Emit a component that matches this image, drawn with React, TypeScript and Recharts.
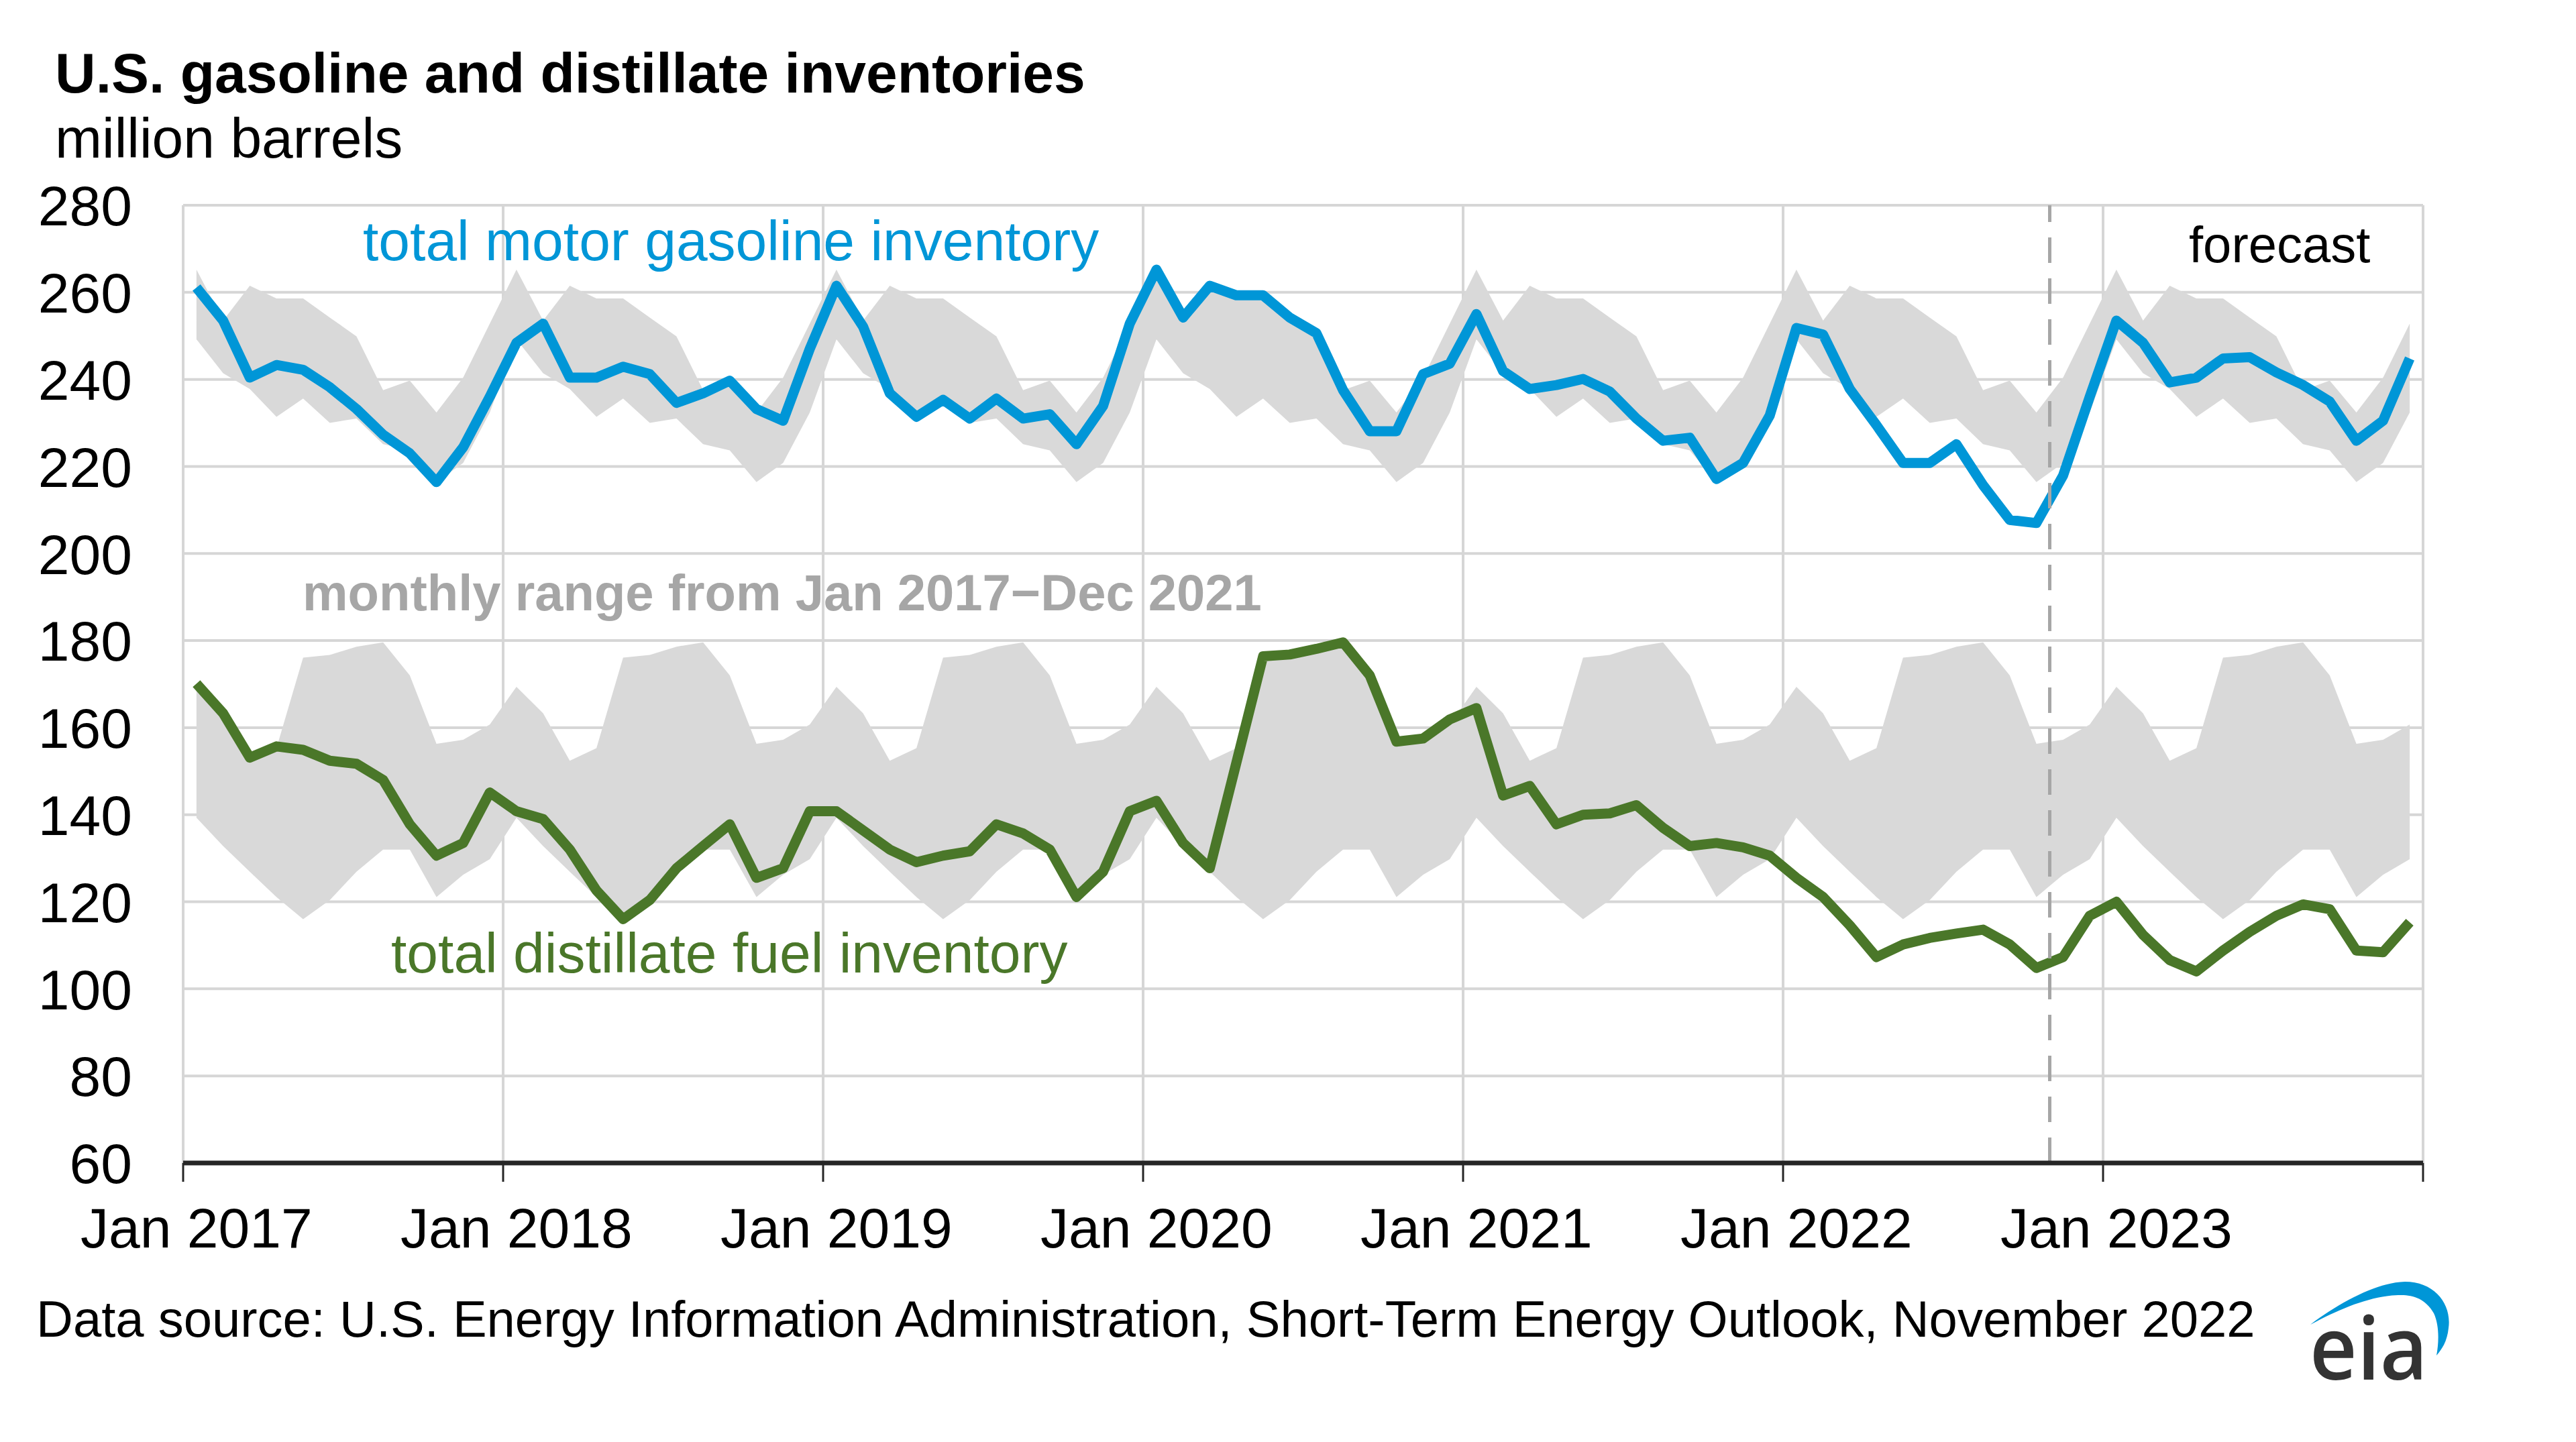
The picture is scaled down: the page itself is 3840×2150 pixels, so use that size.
import React from 'react';
import { ComposedChart, Line, Area, XAxis, YAxis, CartesianGrid, ReferenceLine } from 'recharts';

// ---------- data ----------
const yearLabels = ['Jan 2017', 'Jan 2018', 'Jan 2019', 'Jan 2020', 'Jan 2021', 'Jan 2022', 'Jan 2023'];
const xTicks = [0, 12, 24, 36, 48, 60, 72, 84];
const yTicks = [60, 80, 100, 120, 140, 160, 180, 200, 220, 240, 260, 280];
const forecastStartMonth = 70; // Nov 2022

// total motor gasoline inventory, Jan 2017 - Dec 2023 (million barrels)
const gasoline = [
  261.1, 253.5, 240.4, 243.3, 242.2, 238.2, 233.2, 227.3, 223.0, 216.4, 224.4, 236.0,
  248.4, 252.8, 240.4, 240.4, 242.9, 241.2, 234.6, 236.8, 239.7, 233.2, 230.5, 247.0,
  261.5, 252.1, 236.8, 231.4, 235.3, 231.0, 235.6, 231.0, 232.0, 225.1, 233.9, 252.8,
  265.2, 254.2, 261.5, 259.3, 259.3, 254.2, 250.6, 237.5, 228.1, 228.1, 241.2, 243.6,
  255.0, 241.9, 237.8, 238.7, 240.1, 237.2, 231.0, 225.9, 226.6, 217.1, 220.8, 231.7,
  251.8, 250.3, 237.8, 229.5, 220.8, 220.8, 225.1, 215.7, 207.7, 207.0, 217.9, 236.0,
  253.5, 248.4, 239.3, 240.4, 244.8, 245.1, 241.6, 238.7, 234.9, 225.9, 230.5, 244.8,
];

// total distillate fuel inventory, Jan 2017 - Dec 2023 (million barrels)
const distillate = [
  170.1, 163.3, 153.1, 155.7, 154.9, 152.4, 151.7, 148.0, 137.8, 130.6, 133.5, 145.1,
  140.8, 139.0, 132.0, 122.6, 116.0, 120.4, 127.7, 132.8, 137.8, 125.5, 127.7, 140.8,
  140.8, 136.4, 132.0, 129.1, 130.6, 131.6, 137.8, 135.7, 132.0, 121.1, 126.9, 140.8,
  143.2, 133.5, 127.7, 152.0, 176.4, 176.8, 178.1, 179.6, 172.0, 156.8, 157.5, 161.9,
  164.5, 144.4, 146.6, 137.8, 140.0, 140.3, 142.2, 137.0, 132.8, 133.5, 132.5, 130.6,
  125.5, 121.1, 114.6, 107.3, 110.2, 111.7, 112.7, 113.6, 110.2, 104.8, 107.3, 116.8,
  120.0, 112.4, 106.6, 104.0, 108.8, 113.1, 116.8, 119.4, 118.3, 108.8, 108.4, 115.3,
];

// monthly range Jan 2017 - Dec 2021, by calendar month (Jan..Dec)
const gasRangeLow = [249.2, 241.4, 237.8, 231.4, 235.6, 230.0, 231.0, 225.1, 223.7, 216.4, 220.8, 232.4];
const gasRangeHigh = [265.2, 253.5, 261.5, 258.6, 258.6, 254.2, 249.9, 237.5, 239.7, 232.4, 240.4, 252.8];
const distRangeLow = [139.3, 132.8, 126.9, 121.1, 116.0, 120.4, 126.9, 132.0, 132.0, 121.1, 126.2, 129.8];
const distRangeHigh = [169.4, 163.3, 152.4, 155.3, 176.1, 176.7, 178.6, 179.6, 172.0, 156.3, 157.2, 160.7];

const data = gasoline.map((g, i) => ({
  x: i + 0.5,
  gasoline: g,
  distillate: distillate[i],
  gasRange: [gasRangeLow[i % 12], gasRangeHigh[i % 12]],
  distRange: [distRangeLow[i % 12], distRangeHigh[i % 12]],
}));

// ---------- layout ----------
const W = 3840;
const H = 2150;
const PLOT_LEFT = 273;
const PLOT_RIGHT = 3612;
const PLOT_TOP = 306;
const PLOT_BOTTOM = 1734;
const HALF_SLOT = (PLOT_RIGHT - PLOT_LEFT) / 84 / 2;
const FONT = "'Liberation Sans', Arial, Helvetica, sans-serif";

const BLUE = '#0096D7';
const GREEN = '#4A7729';
const BAND = '#D9D9D9';
const GRID = '#D6D6D6';

const XTick = (props: any) => {
  const { x, payload } = props;
  const label = yearLabels[Math.round(payload.value / 12)];
  if (!label) return <g />;
  return (
    <text x={x + HALF_SLOT} y={1860} textAnchor="middle" fontFamily={FONT} fontSize={84} fill="#000">
      {label}
    </text>
  );
};

const YTick = (props: any) => {
  const { y, payload } = props;
  return (
    <text x={197} y={y} dy="0.36em" textAnchor="end" fontFamily={FONT} fontSize={84} fill="#000">
      {payload.value}
    </text>
  );
};

export default function App() {
  return (
    <div style={{ position: 'absolute', left: 0, top: 0, width: W, height: H, background: '#fff', fontFamily: FONT }}>
      <ComposedChart
        width={W}
        height={H}
        data={data}
        margin={{ top: PLOT_TOP, right: W - PLOT_RIGHT, bottom: 0, left: 0 }}
      >
        <CartesianGrid stroke={GRID} strokeWidth={4} />
        <XAxis
          type="number"
          dataKey="x"
          domain={[0, 84]}
          ticks={xTicks}
          interval={0}
          height={H - PLOT_BOTTOM}
          axisLine={{ stroke: '#262626', strokeWidth: 7 }}
          tickLine={{ stroke: '#262626', strokeWidth: 3 }}
          tickSize={28}
          tick={<XTick />}
          allowDataOverflow
        />
        <YAxis
          type="number"
          domain={[60, 280]}
          ticks={yTicks}
          interval={0}
          width={PLOT_LEFT}
          axisLine={false}
          tickLine={false}
          tick={<YTick />}
          allowDataOverflow
        />
        <Area
          type="linear"
          dataKey="gasRange"
          stroke="none"
          fill={BAND}
          fillOpacity={1}
          isAnimationActive={false}
          activeDot={false}
        />
        <Area
          type="linear"
          dataKey="distRange"
          stroke="none"
          fill={BAND}
          fillOpacity={1}
          isAnimationActive={false}
          activeDot={false}
        />
        <Line
          type="linear"
          dataKey="gasoline"
          stroke={BLUE}
          strokeWidth={15}
          strokeLinejoin="round"
          dot={false}
          activeDot={false}
          isAnimationActive={false}
        />
        <Line
          type="linear"
          dataKey="distillate"
          stroke={GREEN}
          strokeWidth={15}
          strokeLinejoin="round"
          dot={false}
          activeDot={false}
          isAnimationActive={false}
        />
        <ReferenceLine x={forecastStartMonth} stroke="#A6A6A6" strokeWidth={5} strokeDasharray="38 23" />
      </ComposedChart>

      <svg
        width={W}
        height={H}
        style={{ position: 'absolute', left: 0, top: 0, pointerEvents: 'none' }}
      >
        <text x={82} y={138} fontFamily={FONT} fontSize={84} fontWeight="bold" fill="#000">
          U.S. gasoline and distillate inventories
        </text>
        <text x={82} y={235} fontFamily={FONT} fontSize={84} fill="#000">
          million barrels
        </text>
        <text x={541} y={388} fontFamily={FONT} fontSize={84} fill={BLUE}>
          total motor gasoline inventory
        </text>
        <text x={451} y={910} fontFamily={FONT} fontSize={76} fontWeight="bold" fill="#A6A6A6">
          monthly range from Jan 2017−Dec 2021
        </text>
        <text x={583} y={1450} fontFamily={FONT} fontSize={84} fill={GREEN}>
          total distillate fuel inventory
        </text>
        <text x={3263} y={391} fontFamily={FONT} fontSize={76} fill="#000">
          forecast
        </text>
        <text x={54} y={1993} fontFamily={FONT} fontSize={76} fill="#000">
          Data source: U.S. Energy Information Administration, Short-Term Energy Outlook, November 2022
        </text>
        {/* eia logo */}
        <path
          d="M 3444 1975 C 3490 1940, 3545 1912, 3585 1911 C 3630 1911, 3655 1945, 3650 1980 C 3648 2000, 3640 2012, 3632 2021 C 3636 2000, 3636 1975, 3628 1958 C 3615 1935, 3595 1930, 3575 1931 C 3535 1932, 3490 1950, 3444 1975 Z"
          fill={BLUE}
        />
        <text
          x={3443}
          y={2057}
          fontFamily="'Open Sans', 'Noto Sans', sans-serif"
          fontSize={130}
          fontWeight={600}
          fill="#333333"
          textLength={176}
          lengthAdjust="spacingAndGlyphs"
        >
          eia
        </text>
      </svg>
    </div>
  );
}
